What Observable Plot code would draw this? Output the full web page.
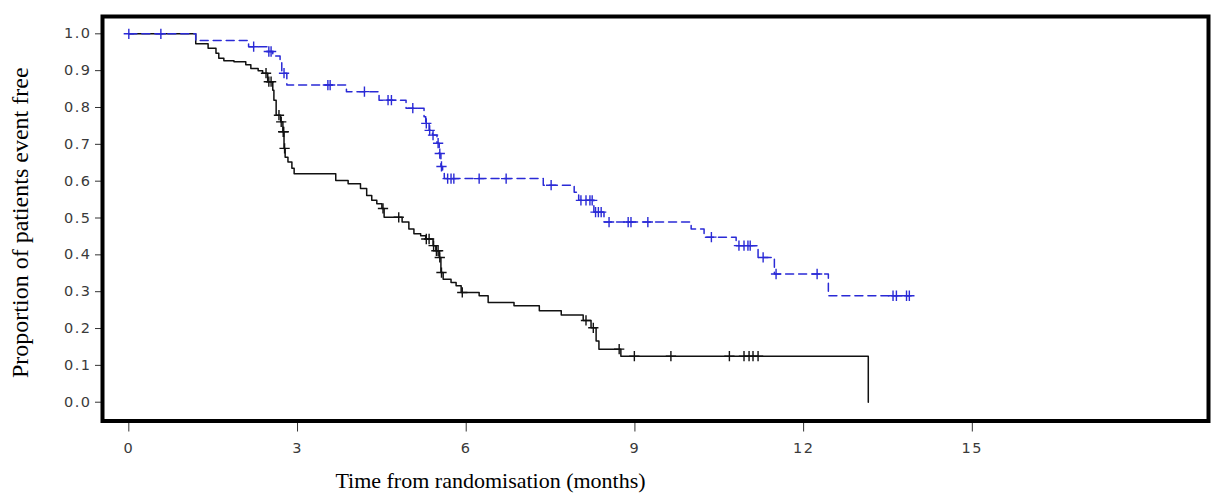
<!DOCTYPE html>
<html>
<head>
<meta charset="utf-8">
<script src="https://cdn.jsdelivr.net/npm/d3@7"></script>
<script src="https://cdn.jsdelivr.net/npm/@observablehq/plot@0.6"></script>
<style>
  body { margin: 0; background: #fff; }
  #chart { width: 1211px; height: 495px; }
  #chart svg { overflow: visible; }
  g[aria-label="x-axis tick label"] text, g[aria-label="y-axis tick label"] text { letter-spacing: 1.5px; font-size: 14.5px; }
</style>
</head>
<body>
<div id="chart"></div>
<script>
// ---- Data ----
// Control arm (black, solid): event times (months) and survival after each event
const blackTimes = [0, 1.19, 1.41, 1.55, 1.60, 1.69, 1.87, 2.08, 2.17, 2.30, 2.38, 2.47, 2.56, 2.58, 2.62, 2.70, 2.74, 2.76, 2.78, 2.83, 2.90, 2.94,
  3.68, 3.90, 4.12, 4.23, 4.32, 4.41, 4.50, 4.54, 4.86, 4.98, 5.07, 5.19, 5.28, 5.41, 5.46, 5.52, 5.55, 5.59, 5.73, 5.82, 5.91,
  6.23, 6.39, 6.85, 7.30, 7.69, 8.08, 8.22, 8.31, 8.36, 8.75, 13.15];
const blackSurv = [1.0, 0.973, 0.961, 0.947, 0.934, 0.927, 0.924, 0.916, 0.906, 0.900, 0.893, 0.870, 0.847, 0.820, 0.779, 0.761, 0.734, 0.689, 0.665, 0.652, 0.635, 0.620,
  0.602, 0.593, 0.580, 0.561, 0.548, 0.539, 0.526, 0.502, 0.489, 0.470, 0.457, 0.452, 0.443, 0.425, 0.411, 0.393, 0.352, 0.334, 0.325, 0.316, 0.298,
  0.289, 0.271, 0.262, 0.248, 0.237, 0.222, 0.202, 0.166, 0.144, 0.125, 0.0];
const blackCensor = [2.44, 2.49, 2.53, 2.67, 2.71, 2.745, 2.755, 2.77, 4.52, 4.80, 5.29, 5.34, 5.42, 5.47, 5.50, 5.53, 5.56, 5.93,
  8.13, 8.26, 8.72, 8.99, 9.64, 10.68, 10.94, 11.03, 11.10, 11.19];

// Treatment arm (blue, dashed)
const blueTimes = [0, 1.19, 2.13, 2.46, 2.56, 2.69, 2.72, 2.81, 3.87, 4.45, 4.93, 5.25, 5.28, 5.34, 5.40, 5.48, 5.52, 5.55, 5.58, 5.61,
  7.37, 7.92, 8.00, 8.27, 8.45, 10.00, 10.23, 10.80, 11.19, 11.48, 12.44, 13.88];
const blueSurv = [1.0, 0.982, 0.965, 0.952, 0.940, 0.930, 0.893, 0.861, 0.843, 0.820, 0.798, 0.775, 0.757, 0.738, 0.725, 0.703, 0.675, 0.640, 0.621, 0.607,
  0.589, 0.570, 0.548, 0.516, 0.489, 0.470, 0.448, 0.425, 0.393, 0.348, 0.289, 0.289];
const blueCensor = [0, 0.57, 2.22, 2.49, 2.53, 2.76, 3.54, 3.58, 4.19, 4.61, 4.67, 5.05, 5.29, 5.35, 5.41, 5.50, 5.53, 5.56,
  5.67, 5.73, 5.78, 6.23, 6.71, 7.51, 8.04, 8.13, 8.20, 8.24, 8.30, 8.35, 8.40, 8.54, 8.88, 8.93, 9.23,
  10.36, 10.85, 10.94, 11.01, 11.05, 11.28, 11.51, 12.24, 13.59, 13.65, 13.83, 13.88];

const xTicks = [0, 3, 6, 9, 12, 15];
const yTicks = [0.0, 0.1, 0.2, 0.3, 0.4, 0.5, 0.6, 0.7, 0.8, 0.9, 1.0];
const xLabel = "Time from randomisation (months)";
const yLabel = "Proportion of patients event free";

// ---- Build tables ----
const toSteps = (times, surv) => times.map((t, i) => ({t, s: surv[i]}));
const survAt = (times, surv, t) => {
  let v = surv[0];
  for (let i = 0; i < times.length; i++) { if (times[i] <= t) v = surv[i]; else break; }
  return v;
};
const blackSteps = toSteps(blackTimes, blackSurv);
const blueSteps = toSteps(blueTimes, blueSurv);
const blackCens = blackCensor.map(t => ({t, s: survAt(blackTimes.slice(0, -1), blackSurv.slice(0, -1), t)}));
const blueCens = blueCensor.map(t => ({t, s: survAt(blueTimes, blueSurv, t)}));

const plusSym = {
  draw(ctx, size) {
    const r = Math.sqrt(size) / 2;
    ctx.moveTo(-r, 0); ctx.lineTo(r, 0);
    ctx.moveTo(0, -r); ctx.lineTo(0, r);
  }
};

const BLUE = "#2a2ad6";
const BLACK = "#111";

const chart = Plot.plot({
  width: 1211,
  height: 495,
  marginLeft: 102,
  marginRight: 3,
  marginTop: 16,
  marginBottom: 74.5,
  style: {fontFamily: "'DejaVu Sans', sans-serif", background: "#fff", color: "#3a3a3a"},
  x: {domain: [-0.468, 19.2], ticks: xTicks},
  y: {domain: [-0.051, 1.047], ticks: yTicks},
  marks: [
    Plot.axisX({ticks: xTicks, tickSize: 11, tickPadding: 11, fontSize: 14.5, label: null, tickFormat: d3.format("d"), stroke: "#333"}),
    Plot.axisY({ticks: yTicks, tickSize: 7, tickPadding: 4, fontSize: 14.5, label: null, tickFormat: d3.format(".1f"), stroke: "#333"}),
    Plot.line(blackSteps, {x: "t", y: "s", curve: "step-after", stroke: BLACK, strokeWidth: 1.5}),
    Plot.line(blueSteps, {x: "t", y: "s", curve: "step-after", stroke: BLUE, strokeWidth: 1.5, strokeDasharray: "8,5"}),
    Plot.dot(blackCens, {x: "t", y: "s", symbol: plusSym, r: 5.8, stroke: BLACK, strokeWidth: 1.4, fill: "none"}),
    Plot.dot(blueCens, {x: "t", y: "s", symbol: plusSym, r: 5.8, stroke: BLUE, strokeWidth: 1.4, fill: "none"}),
    Plot.frame({stroke: "#000", strokeWidth: 4}),
    Plot.text([yLabel], {frameAnchor: "left", textAnchor: "middle", lineAnchor: "middle", dx: -82, dy: 4, rotate: -90, fontSize: 24, fontFamily: "'Liberation Serif', serif", fill: "#000"}),
    Plot.text([xLabel], {frameAnchor: "bottom", textAnchor: "middle", lineAnchor: "middle", dx: -165, dy: 60, fontSize: 22, fontFamily: "'Liberation Serif', serif", fill: "#000"})
  ]
});
document.getElementById("chart").appendChild(chart);
</script>
</body>
</html>
